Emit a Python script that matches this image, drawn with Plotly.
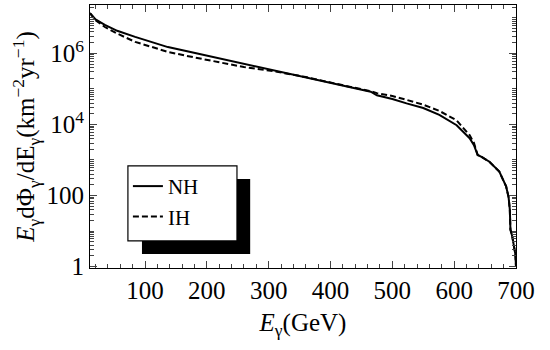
import plotly.graph_objects as go

# photon energy (GeV) and E dPhi/dE (km^-2 yr^-1)
energy = [11, 20, 35, 55, 84, 110, 137, 170, 210, 260, 310, 360, 415, 450, 465,
          475, 500, 523, 550, 576, 604, 625, 632, 638, 645, 657, 673, 684, 688,
          690, 691, 694, 697, 699, 700]
flux_nh = [1.35e7, 9.0e6, 6.3e6, 4.3e6, 2.9e6, 2.05e6, 1.5e6, 1.12e6, 7.9e5,
           5.0e5, 3.2e5, 2.05e5, 1.3e5, 9.5e4, 8.3e4, 6.6e4, 5.2e4, 3.9e4,
           2.9e4, 1.85e4, 9.5e3, 4.1e3, 2.6e3, 1.38e3, 1.2e3, 890, 470, 180,
           90, 40, 11, 7, 4, 2.2, 1.0]
flux_ih = [1.35e7, 8.5e6, 5.5e6, 3.6e6, 2.1e6, 1.5e6, 1.1e6, 8.3e5, 6.0e5,
           4.1e5, 3.1e5, 2.15e5, 1.32e5, 1.0e5, 8.6e4, 7.6e4, 6.3e4, 4.9e4,
           3.6e4, 2.4e4, 1.3e4, 5.0e3, 3.0e3, 1.38e3, 1.2e3, 890, 470, 180,
           90, 40, 11, 7, 4, 2.2, 1.0]

x_ticks = [100, 200, 300, 400, 500, 600, 700]
y_ticks = [1, 100, 1e4, 1e6]
y_labels = ["1", "100", "10<sup>4</sup>", "10<sup>6</sup>"]

font = "Liberation Serif"

fig = go.Figure()
fig.add_trace(go.Scatter(x=energy, y=flux_nh, mode="lines", name="NH",
                         line=dict(color="black", width=2)))
fig.add_trace(go.Scatter(x=energy, y=flux_ih, mode="lines", name="IH",
                         line=dict(color="black", width=2, dash="6px,3px")))

# legend frame with drop shadow (legend itself is drawn on top)
fig.add_shape(type="rect", xref="paper", yref="paper",
              x0=0.122, x1=0.376, y0=0.053, y1=0.338,
              fillcolor="black", line=dict(width=0), layer="above")
fig.add_shape(type="rect", xref="paper", yref="paper",
              x0=0.089, x1=0.345, y0=0.103, y1=0.388,
              fillcolor="white", line=dict(color="black", width=1.2),
              layer="above")

minor_y = [m * 10 ** k for k in range(0, 8) for m in range(1, 10)]

fig.update_xaxes(
    range=[11, 700], tickvals=x_ticks, ticks="inside", ticklen=7,
    showgrid=False, zeroline=False, showline=True, linecolor="black",
    mirror="allticks", tickfont=dict(family=font, size=25, color="black"),
    minor=dict(dtick=20, tick0=0, ticks="inside", ticklen=4, showgrid=False),
    title=dict(text="<i>E</i><sub>γ</sub>(GeV)", standoff=10,
               font=dict(family=font, size=25, color="black")),
)
fig.update_yaxes(
    type="log", range=[-0.04, 7.36], tickvals=y_ticks, ticktext=y_labels,
    ticks="inside", ticklen=7, showgrid=False, zeroline=False,
    showline=True, linecolor="black", mirror="allticks",
    tickfont=dict(family=font, size=25, color="black"),
    minor=dict(tickvals=minor_y, ticks="inside", ticklen=4, showgrid=False),
    title=dict(text="<i>E</i><sub>γ</sub>dΦ<sub>γ</sub>/dE<sub>γ</sub>(km<sup>−2</sup>yr<sup>−1</sup>)",
               standoff=4, font=dict(family=font, size=25, color="black")),
)

fig.update_layout(
    width=550, height=350,
    margin=dict(l=90, r=34, t=5, b=82),
    paper_bgcolor="white", plot_bgcolor="white",
    legend=dict(x=0.089, y=0.388, xanchor="left", yanchor="top",
                bgcolor="rgba(0,0,0,0)", borderwidth=0,
                font=dict(family=font, size=21, color="black"),
                tracegroupgap=4),
)

fig.write_html("out.html", config={"displayModeBar": False},
               post_script="document.body.style.margin='0';")
